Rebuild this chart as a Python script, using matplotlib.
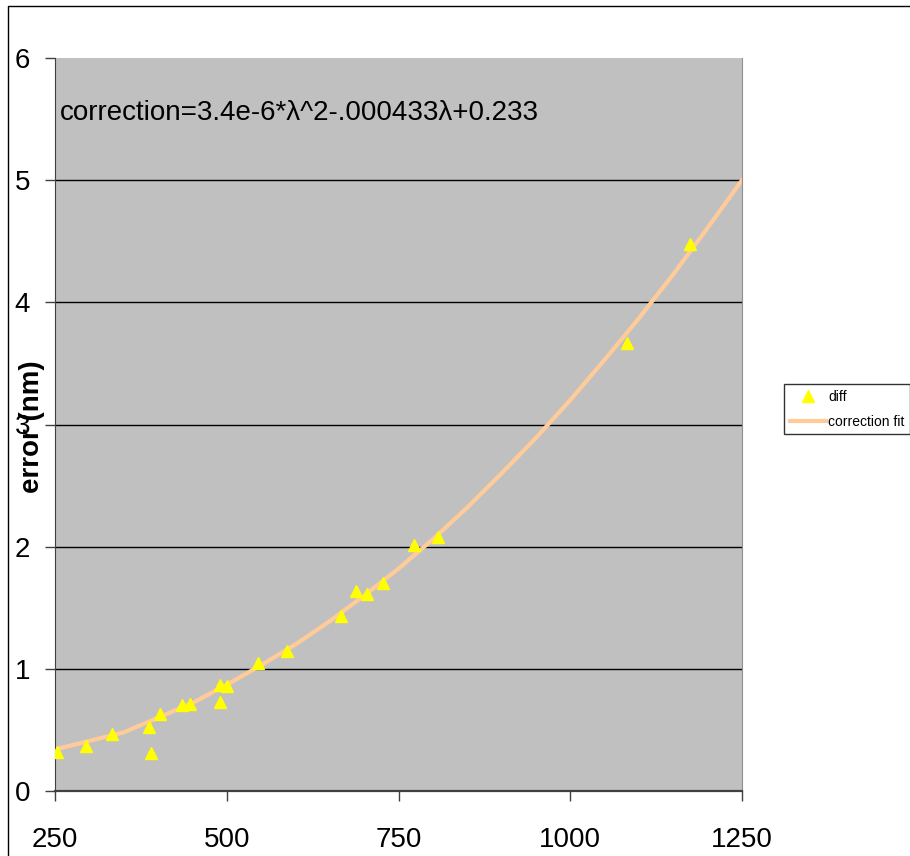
"""Wavelength error vs. wavelength, with quadratic correction fit."""

import matplotlib

matplotlib.use("Agg")
import matplotlib.pyplot as plt
from matplotlib.lines import Line2D

plt.rcParams["font.family"] = ["Liberation Sans", "DejaVu Sans"]

# measured differences (wavelength nm, error nm)
diff_x = [253, 295, 333, 387, 390, 403, 435, 446, 490, 490, 500, 545, 588,
          667, 688, 704, 727, 773, 808, 1083, 1174]
diff_y = [0.32, 0.37, 0.47, 0.52, 0.31, 0.63, 0.70, 0.71, 0.87, 0.73, 0.86,
          1.05, 1.15, 1.43, 1.64, 1.61, 1.70, 2.01, 2.08, 3.67, 4.48]

# correction fit curve
fit_x = [250, 300, 350, 400, 450, 500, 550, 600, 650, 700, 750, 800, 850,
         900, 950, 1000, 1050, 1100, 1150, 1200, 1250]
fit_y = [0.34, 0.41, 0.48, 0.60, 0.72, 0.87, 1.03, 1.20, 1.39, 1.60, 1.82,
         2.06, 2.32, 2.60, 2.89, 3.20, 3.53, 3.87, 4.23, 4.61, 5.00]

x_ticks = [250, 500, 750, 1000, 1250]
y_ticks = [0, 1, 2, 3, 4, 5, 6]

W, H = 910, 856
fig = plt.figure(figsize=(W / 100, H / 100), dpi=100)
ax = fig.add_axes([55 / W, 1 - 791 / H, (742 - 55) / W, (791 - 58) / H])
ax.set_facecolor("#C0C0C0")

ax.plot(fit_x, fit_y, color="#FFCC99", lw=3, label="correction fit", zorder=2)
ax.plot(diff_x, diff_y, ls="none", marker="^", ms=9, color="#FFFF00",
        mec="#FFFF00", label="diff", zorder=3)

ax.set_xlim(250, 1250)
ax.set_ylim(0, 6)
ax.set_xticks(x_ticks)
ax.set_yticks(y_ticks)
ax.tick_params(labelsize=20, direction="out", length=7, width=1,
               color="#404040")
ax.tick_params(axis="x", pad=19)
ax.tick_params(axis="y", pad=11)
for y in y_ticks[1:-1]:
    ax.axhline(y, color="black", lw=1, zorder=1)

ax.spines["top"].set_visible(False)
ax.spines["left"].set_color("#404040")
ax.spines["bottom"].set_color("#404040")
ax.spines["bottom"].set_linewidth(1.6)
ax.spines["right"].set_color("#909090")

ax.text(257, 5.49, "correction=3.4e-6*λ^2-.000433λ+0.233", fontsize=20,
        va="baseline", ha="left")

fig.text(32 / W, 1 - 427 / H, "error (nm)", rotation=90, fontsize=20,
         fontweight="bold", ha="center", va="center")

handles = [Line2D([], [], ls="none", marker="^", ms=9, color="#FFFF00"),
           Line2D([], [], color="#FFCC99", lw=3)]
leg = fig.legend(handles, ["diff", "correction fit"], loc="upper left",
                 bbox_to_anchor=(784 / W, 1 - 384 / H), borderaxespad=0,
                 fontsize=10, frameon=True, fancybox=False, handlelength=2.6,
                 borderpad=0.4, labelspacing=0.8, handletextpad=0.2)
leg.get_frame().set_edgecolor("black")
leg.get_frame().set_linewidth(1)

# outer chart border (top and left visible)
fig.add_artist(Line2D([8 / W, 8 / W, 1], [0, 1 - 6 / H, 1 - 6 / H],
                      color="black", lw=1, transform=fig.transFigure))

fig.savefig("out.png", dpi=100)
